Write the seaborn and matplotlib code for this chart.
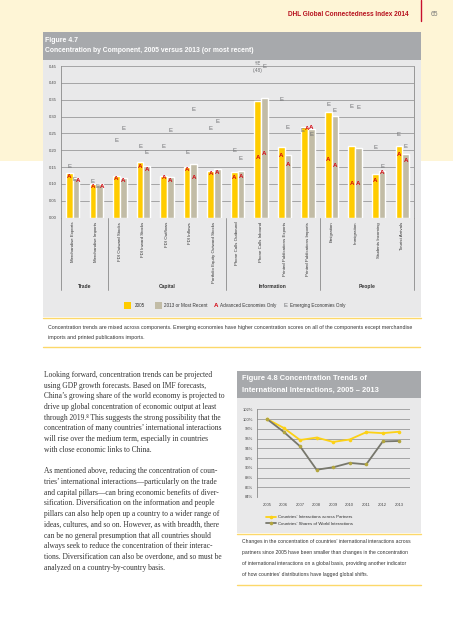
import numpy as np
import pandas as pd
import matplotlib
matplotlib.use('Agg')
import matplotlib.pyplot as plt
import matplotlib.transforms as mtransforms
from matplotlib.patches import Rectangle
from matplotlib.lines import Line2D
import seaborn as sns

# ---- data: Figure 4.7 ----
components = ['Merchandise Exports', 'Merchandise Imports', 'FDI Outward Stocks', 'FDI Inward Stocks',
              'FDI Outflows', 'FDI Inflows', 'Portfolio Equity Outward Stocks', 'Phone Calls Outbound',
              'Phone Calls Inbound', 'Printed Publications Exports', 'Printed Publications Imports',
              'Emigration', 'Immigration', 'Students Incoming', 'Tourist Arrivals']
conc_2005 = [0.131, 0.100, 0.123, 0.165, 0.123, 0.151, 0.138, 0.134, 0.347, 0.210, 0.270, 0.313, 0.213, 0.128, 0.212]
conc_2013 = [0.118, 0.100, 0.118, 0.153, 0.120, 0.158, 0.144, 0.139, 0.354, 0.186, 0.262, 0.301, 0.206, 0.139, 0.189]
adv_2005 = [0.121, 0.092, 0.115, 0.151, 0.118, 0.143, 0.131, 0.118, 0.179, 0.183, 0.265, 0.171, 0.102, 0.109, 0.186]
adv_2013 = [0.110, 0.092, 0.109, 0.143, 0.109, 0.120, 0.135, 0.123, 0.191, 0.158, 0.267, 0.156, 0.102, 0.133, 0.169]
emg_2005 = [0.151, 0.107, 0.228, 0.210, 0.210, 0.192, 0.263, 0.200, 0.48, 0.352, 0.260, 0.337, 0.329, 0.207, 0.247]
emg_2013 = [0.112, 0.092, 0.263, 0.194, 0.258, 0.321, 0.285, 0.176, 0.448, 0.268, 0.247, 0.319, 0.327, 0.151, 0.211]
pillars = ['Trade', 'Capital', 'Information', 'People']
pillar_sizes = [2, 5, 4, 4]

# ---- data: Figure 4.8 ----
years = [2005, 2006, 2007, 2008, 2009, 2010, 2011, 2012, 2013]
across_partners = [100.0, 98.2, 95.7, 96.2, 95.3, 95.8, 97.3, 97.1, 97.4]
world_shares = [100.0, 97.4, 94.4, 89.6, 90.1, 91.0, 90.7, 95.4, 95.5]

W, H = 453, 640
YELLOW = '#ffcc00'
KHAKI = '#c2bca6'
RED = '#d40511'
EGREY = '#6d6e71'
NARROW = ['Liberation Sans Narrow', 'Liberation Sans', 'DejaVu Sans']
SERIF = ['Liberation Serif', 'DejaVu Serif']

sns.set_style('white')
plt.rcParams['font.family'] = NARROW


def fx(x):
    return x / W


def fy(y):
    return 1 - y / H


def box(fig, x0, y0, x1, y1, color, z=-1):
    fig.add_artist(Rectangle((fx(x0), fy(y1)), (x1 - x0) / W, (y1 - y0) / H,
                             transform=fig.transFigure, color=color, zorder=z, lw=0))


def hline(fig, x0, x1, y, color, lw=1.0):
    fig.add_artist(Line2D([fx(x0), fx(x1)], [fy(y), fy(y)], transform=fig.transFigure,
                          color=color, lw=lw, zorder=0))


fig = plt.figure(figsize=(W / 100, H / 100), dpi=100, facecolor='white')

# page background / header
box(fig, 0, 0, W, 161, '#fef5d6', z=-3)
fig.text(fx(409), fy(14), 'DHL Global Connectedness Index 2014', ha='right', va='center',
         fontsize=4.7, fontweight='bold', color='#b7121f')
fig.add_artist(Line2D([fx(420.7), fx(420.7)], [fy(0), fy(20.7)], transform=fig.transFigure,
                      color='#c8102e', lw=1))
fig.text(fx(431), fy(14), '65', ha='left', va='center', fontsize=4.8, color='#777777')

# ---- Figure 4.7 frame ----
box(fig, 43, 32, 421, 60, '#a7a9ac')
box(fig, 43, 60, 421, 317, '#e9e9ea')
fig.text(fx(45), fy(40), 'Figure 4.7', va='center', fontsize=5, color='white', fontweight='bold')
fig.text(fx(45), fy(51), 'Concentration by Component, 2005 versus 2013 (or most recent)', va='center',
         fontsize=4.9, color='white', fontweight='bold')
hline(fig, 43, 421, 317.5, '#fcd86a', 1.0)

df = pd.DataFrame({
    'component': components * 2,
    'value': conc_2005 + conc_2013,
    'year': ['2005'] * len(components) + ['2013 or Most Recent'] * len(components),
})

ax1 = fig.add_axes([fx(61), fy(217.6), (414 - 61) / W, (217.6 - 66) / H])
ax1.set_facecolor('none')
sns.barplot(data=df, x='component', y='value', hue='year', palette=[YELLOW, KHAKI],
            width=0.57, gap=0, saturation=1, errorbar=None, legend=False, ax=ax1, zorder=3)
ax1.set_xlim(-0.5, len(components) - 0.5)
ax1.set_ylim(0, 0.45)
ax1.set_yticks(np.arange(0, 0.451, 0.05))
ax1.set_yticklabels([f'{v:.2f}' for v in np.arange(0, 0.451, 0.05)], fontsize=3, color='#444444')
ax1.yaxis.grid(True, color='#9a9a9a', lw=0.6, zorder=1)
ax1.set_axisbelow(True)
ax1.tick_params(axis='both', length=0, pad=3)
ax1.set_xticks(range(len(components)))
ax1.set_xticklabels(components, rotation=90, fontsize=3.2, color='#333333', va='top')
ax1.set_xlabel('')
ax1.set_ylabel('')
for s in ['top', 'bottom']:
    ax1.spines[s].set_visible(False)
for s in ['left', 'right']:
    ax1.spines[s].set_color('#8a8a8a')
    ax1.spines[s].set_linewidth(0.6)

# A / E markers
off = 0.1425
for i in range(len(components)):
    for dx, a, e in [(-off, adv_2005[i], emg_2005[i]), (off, adv_2013[i], emg_2013[i])]:
        sh = 0.08 if abs(a - e) < 0.012 else 0
        ax1.text(i + dx + sh, a, 'A', ha='center', va='center', fontsize=4.4, color=RED,
                 fontweight='bold', zorder=5)
        if e > 0.45:
            ax1.text(i + dx, 0.457, '\u2191E', ha='center', va='center', fontsize=3.6, color=EGREY,
                     zorder=5, clip_on=False, family=['DejaVu Sans'])
            ax1.text(i + dx, 0.437, f'({e:.2f})'.replace('0.', '.'), ha='center', va='center',
                     fontsize=3.4, color=EGREY, zorder=5)
        else:
            ax1.text(i + dx - sh, e, 'E', ha='center', va='center', fontsize=4.3, color=EGREY, zorder=5)

# pillar separators and labels
trans = mtransforms.blended_transform_factory(ax1.transData, ax1.transAxes)
bounds = np.concatenate([[0], np.cumsum(pillar_sizes)]) - 0.5
for b in bounds:
    ax1.plot([b, b], [0, -0.478], transform=trans, color='#8a8a8a', lw=0.6, clip_on=False)
for k, name in enumerate(pillars):
    ax1.text((bounds[k] + bounds[k + 1]) / 2, -0.457, name, transform=trans, ha='center', va='center',
             fontsize=3.6, fontweight='bold', color='#333333')

# legend row
box(fig, 124, 302, 130.5, 308.5, YELLOW, z=2)
fig.text(fx(135), fy(305.5), '2005', va='center', fontsize=3.3, color='#333333')
box(fig, 155, 302, 161.5, 308.5, KHAKI, z=2)
fig.text(fx(164), fy(305.5), '2013 or Most Recent', va='center', fontsize=3.3, color='#333333')
fig.text(fx(216), fy(305.5), 'A', ha='center', va='center', fontsize=4.4, color=RED, fontweight='bold')
fig.text(fx(220), fy(305.5), 'Advanced Economies Only', va='center', fontsize=3.3, color='#333333')
fig.text(fx(285), fy(305.5), 'E', ha='center', va='center', fontsize=4.3, color=EGREY)
fig.text(fx(290), fy(305.5), 'Emerging Economies Only', va='center', fontsize=3.3, color='#333333')

# caption 4.7
fig.text(fx(48), fy(327), 'Concentration trends are mixed across components. Emerging economies have higher '
         'concentration scores on all of the components except merchandise', va='center', fontsize=3.75,
         color='#333333')
fig.text(fx(48), fy(337.5), 'imports and printed publications imports.', va='center', fontsize=3.75,
         color='#333333')
hline(fig, 43, 420, 346.7, '#fcd86a', 1.0)

# ---- body text ----
body = [
    'Looking forward, concentration trends can be projected',
    'using GDP growth forecasts. Based on IMF forecasts,',
    'China\u2019s growing share of the world economy is projected to',
    'drive up global concentration of economic output at least',
    'through 2019.\u2078 This suggests the strong possibility that the',
    'concentration of many countries\u2019 international interactions',
    'will rise over the medium term, especially in countries',
    'with close economic links to China.',
    '',
    'As mentioned above, reducing the concentration of coun-',
    'tries\u2019 international interactions\u2014particularly on the trade',
    'and capital pillars\u2014can bring economic benefits of diver-',
    'sification. Diversification on the information and people',
    'pillars can also help open up a country to a wider range of',
    'ideas, cultures, and so on. However, as with breadth, there',
    'can be no general presumption that all countries should',
    'always seek to reduce the concentration of their interac-',
    'tions. Diversification can also be overdone, and so must be',
    'analyzed on a country-by-country basis.',
]
for k, line in enumerate(body):
    fig.text(fx(44), fy(375 + k * 10.7), line, va='center', fontsize=5.45, color='#333333', family=SERIF)

# ---- Figure 4.8 ----
box(fig, 237, 371, 421, 398, '#a7a9ac')
box(fig, 237, 398, 421, 533, '#e9e9ea')
fig.text(fx(242), fy(379), 'Figure 4.8 Concentration Trends of', va='center', fontsize=5.4,
         color='white', fontweight='bold')
fig.text(fx(242), fy(390), 'International Interactions, 2005 \u2013 2013',
         va='center', fontsize=5.4, color='white', fontweight='bold')

df2 = pd.DataFrame({
    'year': years * 2,
    'value': across_partners + world_shares,
    'series': ['Countries\u2019 Interactions across Partners'] * len(years)
              + ['Countries\u2019 Shares of World Interactions'] * len(years),
})

ax2 = fig.add_axes([fx(257.3), fy(497), (410 - 257.3) / W, (497 - 409.3) / H])
ax2.set_facecolor('none')
sns.lineplot(data=df2[df2.series.str.contains('across')], x='year', y='value', color='#fcd116',
             lw=1.3, marker='o', markersize=2.6, markeredgewidth=0, ax=ax2, zorder=4)
sns.lineplot(data=df2[df2.series.str.contains('Shares')], x='year', y='value', color='#77776c',
             lw=1.3, marker='o', markersize=2.6, markeredgewidth=0, markerfacecolor='#b3a63e',
             ax=ax2, zorder=4)
ax2.set_xlim(2004.415, 2013.645)
ax2.set_ylim(84, 102)
ax2.set_yticks(range(84, 103, 2))
ax2.set_yticklabels([f'{v}%' for v in range(84, 103, 2)], fontsize=3, color='#444444')
ax2.set_xticks(years)
ax2.set_xticklabels([str(y) for y in years], fontsize=3, color='#444444')
ax2.yaxis.grid(True, color='#9a9a9a', lw=0.6)
ax2.tick_params(axis='y', length=0, pad=3)
ax2.tick_params(axis='x', length=1.5, width=0.5, color='#8a8a8a', pad=2.5)
ax2.set_xlabel('')
ax2.set_ylabel('')
for s in ['top', 'right', 'bottom']:
    ax2.spines[s].set_visible(False)
ax2.spines['left'].set_color('#8a8a8a')
ax2.spines['left'].set_linewidth(0.6)

handles = [
    Line2D([], [], color='#fcd116', lw=1.3, marker='o', markersize=2.6, markeredgewidth=0),
    Line2D([], [], color='#77776c', lw=1.3, marker='o', markersize=2.6, markeredgewidth=0,
           markerfacecolor='#b3a63e'),
]
ax2.legend(handles, list(df2.series.unique()), loc='center left', bbox_to_anchor=(fx(262), fy(520.5)),
           bbox_transform=fig.transFigure, frameon=False, fontsize=3.2, handlelength=2.2,
           handletextpad=0.4, labelspacing=0.55, labelcolor='#333333')

hline(fig, 237, 421, 533.5, '#fcd86a', 1.0)
cap48 = [
    'Changes in the concentration of countries\u2019 international interactions across',
    'partners since 2005 have been smaller than changes in the concentration',
    'of international interactions on a global basis, providing another indicator',
    'of how countries\u2019 distributions have lagged global shifts.',
]
for k, line in enumerate(cap48):
    fig.text(fx(242), fy(541.7 + k * 10.8), line, va='center', fontsize=3.65, color='#333333')
hline(fig, 237, 421, 584.5, '#fcd86a', 1.0)

fig.savefig('out.png', dpi=100, facecolor='white')
